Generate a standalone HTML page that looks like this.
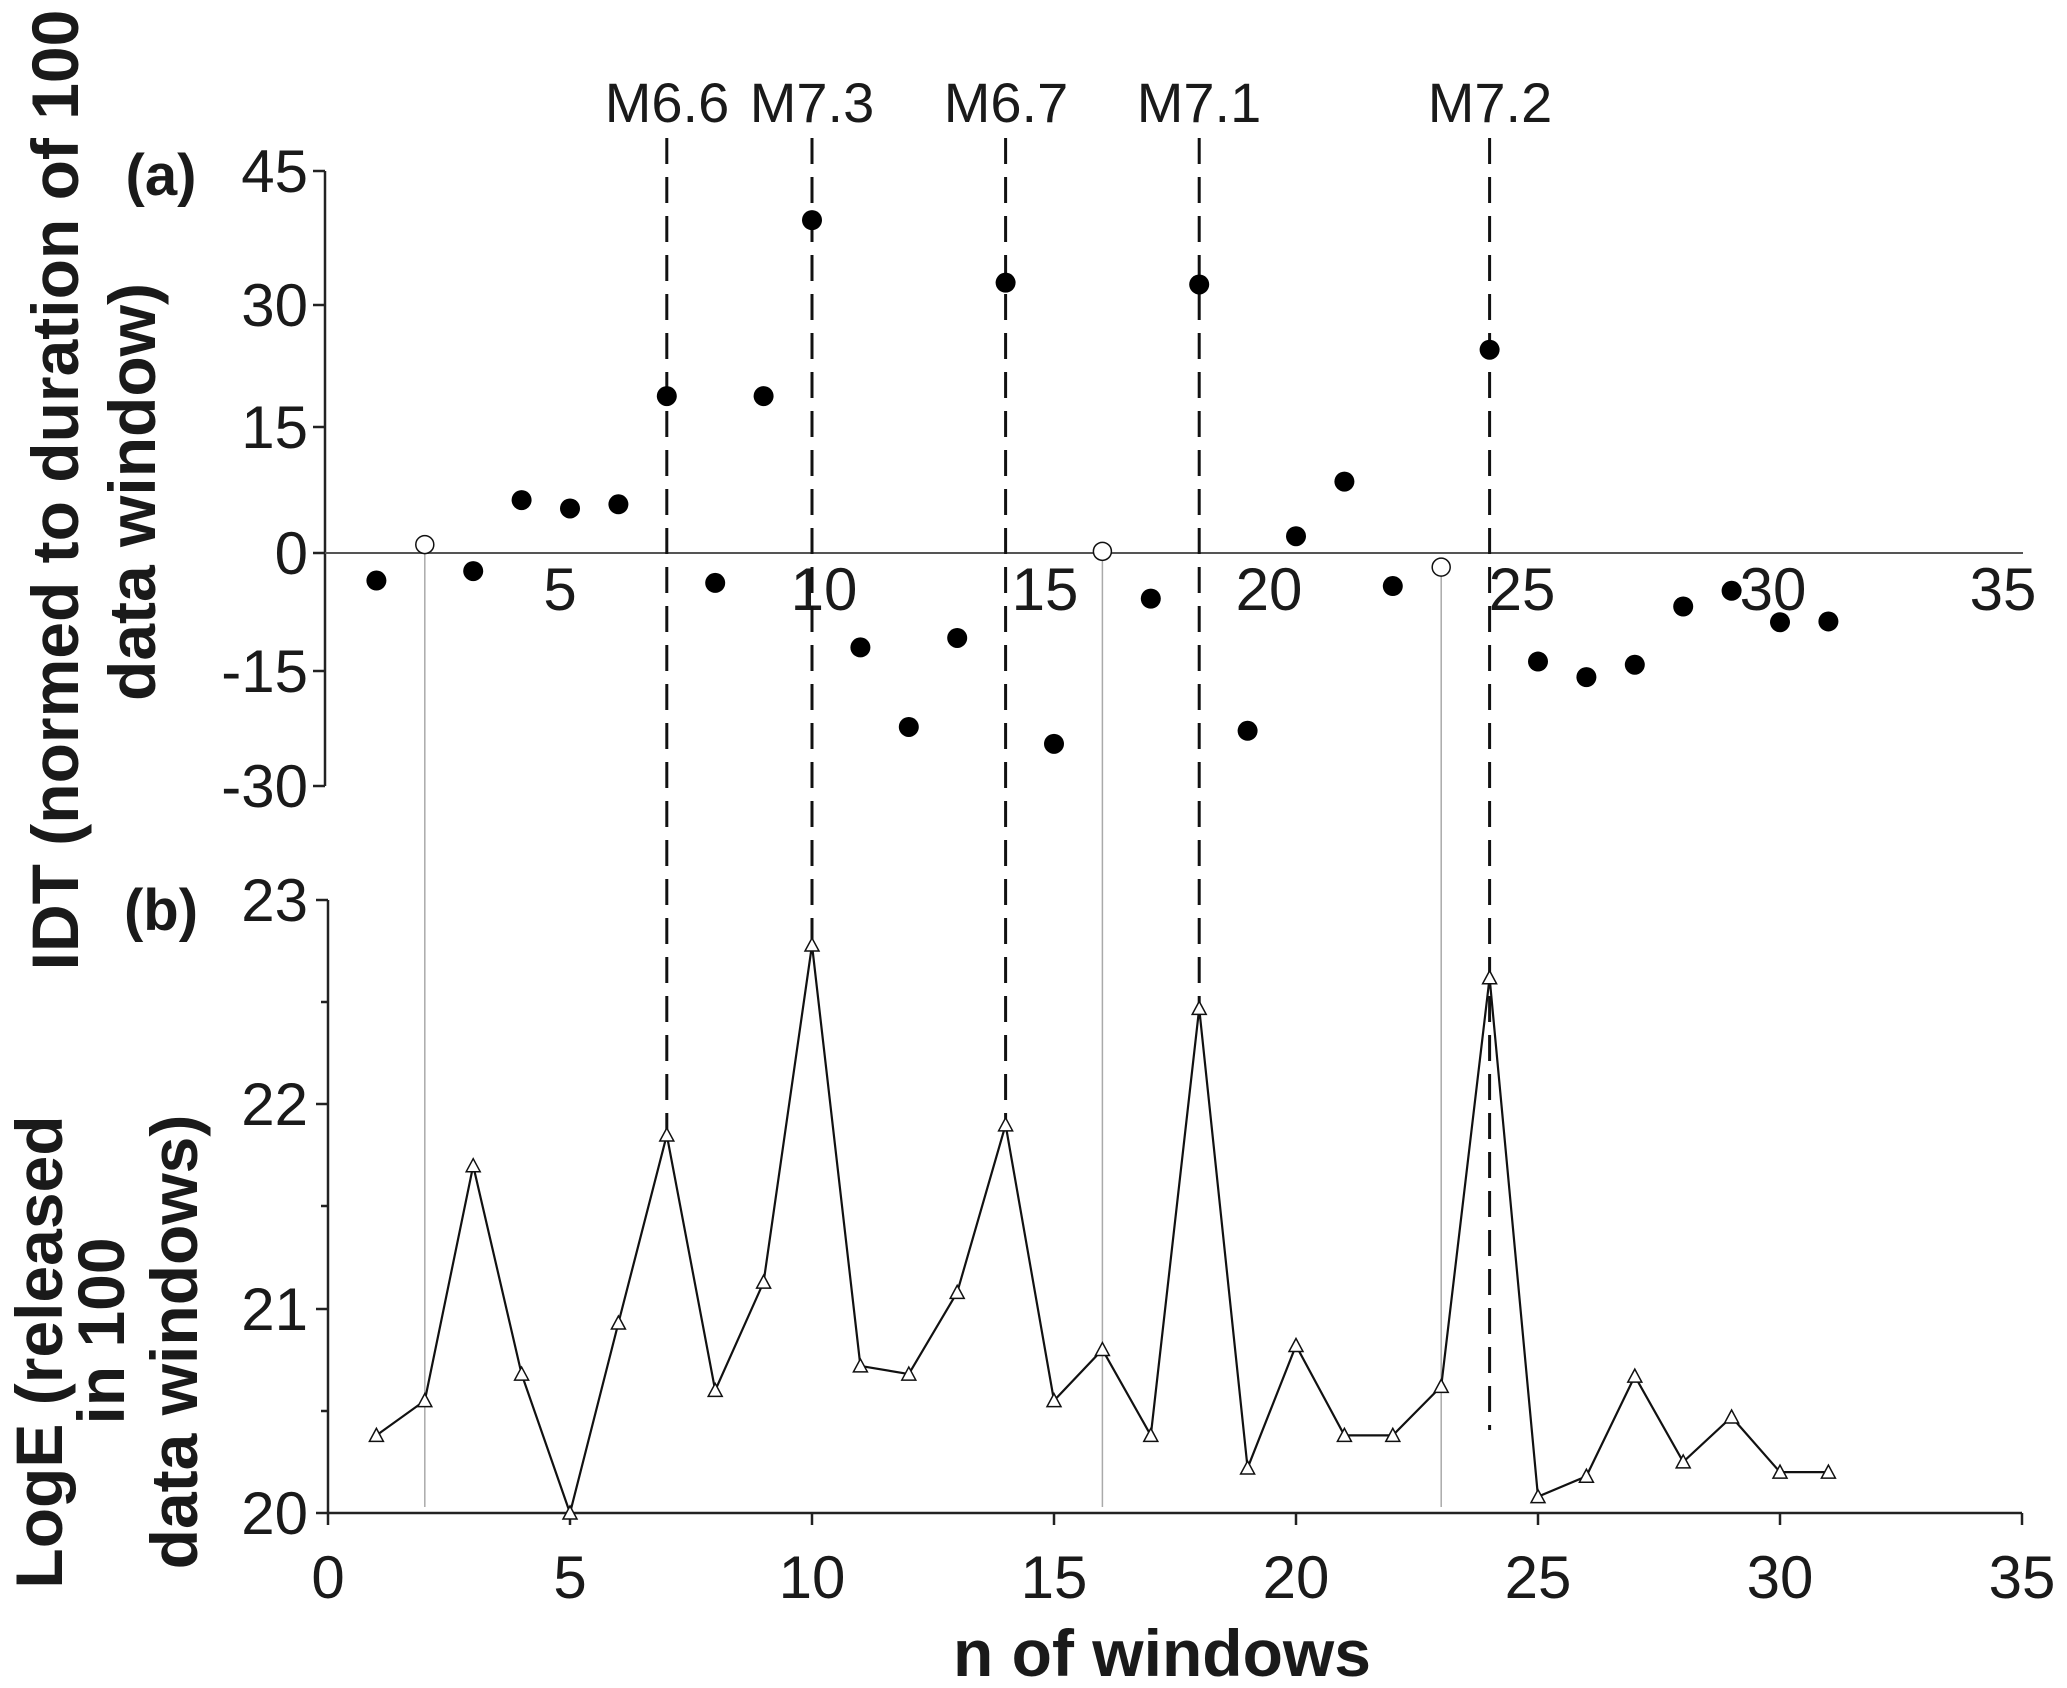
<!DOCTYPE html>
<html><head><meta charset="utf-8"><style>
html,body{margin:0;padding:0;background:#fff}
svg{display:block}
text{font-family:"Liberation Sans",sans-serif;fill:#1a1a1a}
.t{font-size:60px}
.m{font-size:56px}
.b{font-weight:bold;font-size:66px}
.p{font-weight:bold;font-size:58px}
</style></head><body>
<svg id="s" width="2067" height="1688" viewBox="0 0 2067 1688" xmlns="http://www.w3.org/2000/svg">
<rect width="2067" height="1688" fill="#fff"/>
<text class="b" transform="translate(78,490) rotate(-90)" text-anchor="middle">IDT (normed to duration of 100</text>
<text class="b" transform="translate(155,492) rotate(-90)" text-anchor="middle">data  window)</text>
<text class="b" transform="translate(62,1352) rotate(-90)" text-anchor="middle">LogE (released</text>
<text class="b" transform="translate(124,1331) rotate(-90)" text-anchor="middle">in 100</text>
<text class="b" transform="translate(197,1342) rotate(-90)" text-anchor="middle">data windows)</text>
<text class="p" x="161" y="195" text-anchor="middle">(a)</text>
<text class="p" x="161" y="930" text-anchor="middle">(b)</text>
<g stroke="#222" stroke-width="2.5" fill="none">
<line x1="325" y1="171" x2="325" y2="786"/>
<line x1="313" y1="171" x2="325" y2="171"/>
<line x1="313" y1="305" x2="325" y2="305"/>
<line x1="313" y1="427" x2="325" y2="427"/>
<line x1="313" y1="553" x2="325" y2="553"/>
<line x1="313" y1="671" x2="325" y2="671"/>
<line x1="313" y1="786" x2="325" y2="786"/>
</g>
<line x1="325" y1="553" x2="2023" y2="553" stroke="#555" stroke-width="2"/>
<g class="t" text-anchor="end">
<text x="308" y="192">45</text><text x="308" y="326">30</text><text x="308" y="448">15</text>
<text x="308" y="574">0</text><text x="308" y="692">-15</text><text x="308" y="807">-30</text>
</g>
<g class="t" text-anchor="middle">
<text x="560" y="610">5</text><text x="824" y="610">10</text><text x="1045" y="610">15</text>
<text x="1269" y="610">20</text><text x="1522" y="610">25</text><text x="1773" y="610">30</text><text x="2003" y="610">35</text>
</g>
<g stroke="#222" stroke-width="2.5" fill="none">
<line x1="328" y1="900" x2="328" y2="1513"/>
<line x1="328" y1="1513" x2="2022" y2="1513"/>
<line x1="316" y1="900" x2="328" y2="900"/>
<line x1="316" y1="1104" x2="328" y2="1104"/>
<line x1="316" y1="1309" x2="328" y2="1309"/>
<line x1="316" y1="1513" x2="328" y2="1513"/>
<line x1="321" y1="1002" x2="328" y2="1002"/>
<line x1="321" y1="1206" x2="328" y2="1206"/>
<line x1="321" y1="1411" x2="328" y2="1411"/>
</g>
<g class="t" text-anchor="end">
<text x="308" y="921">23</text><text x="308" y="1125">22</text><text x="308" y="1330">21</text><text x="308" y="1534">20</text>
</g>
<g class="t" text-anchor="middle" id="xl"></g>
<text class="b" x="1162" y="1676" text-anchor="middle">n of windows</text>
<g id="g"></g>
<g class="m" text-anchor="middle">
<text x="667" y="122">M6.6</text><text x="812" y="122">M7.3</text><text x="1006" y="122">M6.7</text>
<text x="1199" y="122">M7.1</text><text x="1490" y="122">M7.2</text>
</g>
</svg>
<script>
(function(){
var NS="http://www.w3.org/2000/svg",g=document.getElementById('g'),xl=document.getElementById('xl');
function X(n){return 328+48.4*n}
var tk=[[45,171],[30,305],[15,427],[0,553],[-15,671],[-30,786]];
function YT(v){for(var i=0;i<tk.length-2;i++){if(v>=tk[i+1][0])break;}var a=tk[i],b=tk[i+1];return a[1]+(v-a[0])*(b[1]-a[1])/(b[0]-a[0]);}
function YB(v){return 1513-(v-20)*204.3}
function el(t,a){var e=document.createElementNS(NS,t);for(var k in a)e.setAttribute(k,a[k]);g.appendChild(e);return e}
for(var i=0;i<=35;i+=5){var t=document.createElementNS(NS,'text');t.setAttribute('x',X(i));t.setAttribute('y',1598);t.textContent=i;xl.appendChild(t);
el('line',{x1:X(i),y1:1513,x2:X(i),y2:1525,stroke:'#222','stroke-width':2.5});}
var tv=[-3.5,1.0,-2.3,6.3,5.3,5.8,18.8,-3.8,18.8,39.5,-12,-22.3,-10.8,32.5,-24.5,0.2,-5.8,32.3,-22.8,2.0,8.5,-4.2,-1.8,24.5,-13.8,-15.8,-14.2,-6.8,-4.8,-8.8,-8.7];
var bv=[20.38,20.55,21.7,20.68,20.0,20.93,21.85,20.6,21.13,22.78,20.72,20.68,21.08,21.9,20.55,20.8,20.38,22.47,20.22,20.82,20.38,20.38,20.62,22.62,20.08,20.18,20.67,20.25,20.47,20.2,20.2];
var open={2:1,16:1,23:1};
[2,16,23].forEach(function(n){el('line',{x1:X(n),y1:YT(tv[n-1]),x2:X(n),y2:1507,stroke:'#aaa','stroke-width':1.5})});
var dl={7:YB(21.85),10:YB(22.78),14:YB(21.9),18:YB(22.47),24:1430};
for(var n in dl)el('line',{x1:X(+n),y1:138,x2:X(+n),y2:dl[n],stroke:'#111','stroke-width':3,'stroke-dasharray':'26 13'});
var p=bv.map(function(v,i){return X(i+1)+','+YB(v)}).join(' ');
el('polyline',{points:p,fill:'none',stroke:'#111','stroke-width':2.2});
bv.forEach(function(v,i){var x=X(i+1),y=YB(v);el('polygon',{points:(x-7)+','+(y+6)+' '+(x+7)+','+(y+6)+' '+x+','+(y-7),fill:'#fff',stroke:'#111','stroke-width':1.5})});
tv.forEach(function(v,i){var n=i+1;if(open[n])el('circle',{cx:X(n),cy:YT(v),r:9,fill:'#fff',stroke:'#111','stroke-width':1.5});else el('circle',{cx:X(n),cy:YT(v),r:10,fill:'#000'})});
})();
</script>
</body></html>
